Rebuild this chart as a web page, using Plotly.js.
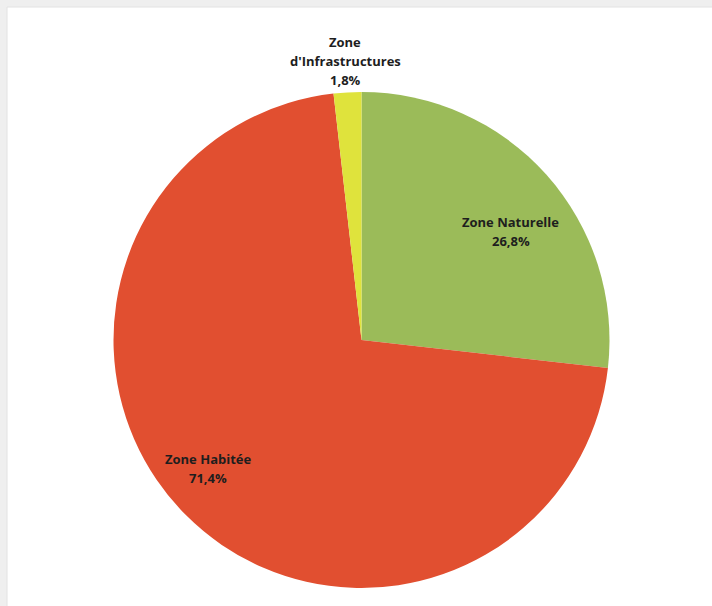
<!DOCTYPE html>
<html>
<head>
<meta charset="utf-8">
<script src="https://cdn.plot.ly/plotly-3.0.1.min.js"></script>
<style>html,body{margin:0;padding:0;background:#fff;}#chart{width:712px;height:606px;}</style>
</head>
<body>
<div id="chart"></div>
<script>
const categories = ["Zone Naturelle", "Zone Habitée", "Zone d'Infrastructures"];
const values = [26.8, 71.4, 1.8];
const labelLines = [["Zone Naturelle"], ["Zone Habitée"], ["Zone", "d'Infrastructures"]];
const colors = ["#9BBB59", "#E14F30", "#DFE33C"];

const W = 712, H = 606;
const cx = 361.5, cy = 340, r = 248;
function px(x){return x / W;}
function py(y){return 1 - y / H;}

const fmt = v => v.toFixed(1).replace('.', ',') + '%';
const labelPos = [[511, 231.5], [208, 468.5], [345, 61]];
const lineGap = 19;

const annotations = [];
categories.forEach((c, i) => {
  const lines = labelLines[i].concat([fmt(values[i])]);
  const n = lines.length;
  lines.forEach((t, j) => {
    annotations.push({
      xref: 'paper', yref: 'paper',
      x: px(labelPos[i][0]), y: py(labelPos[i][1] + (j - (n - 1) / 2) * lineGap),
      xanchor: 'center', yanchor: 'middle',
      showarrow: false,
      text: '<b>' + t + '</b>',
      font: {family: 'Open Sans, sans-serif', size: 13, color: '#1e1e1e'},
      align: 'center'
    });
  });
});

const data = [{
  type: 'pie',
  labels: categories,
  values: values,
  sort: false,
  direction: 'clockwise',
  rotation: 0,
  marker: {colors: colors, line: {width: 0}},
  textinfo: 'none',
  hoverinfo: 'label+percent',
  showlegend: false,
  domain: {x: [px(cx - r), px(cx + r)], y: [py(cy + r), py(cy - r)]}
}];

const layout = {
  width: W, height: H,
  margin: {l: 0, r: 0, t: 0, b: 0},
  paper_bgcolor: '#EFEFEF',
  showlegend: false,
  shapes: [{
    type: 'rect', xref: 'paper', yref: 'paper',
    x0: px(7), x1: 1.01, y0: -0.01, y1: py(7),
    fillcolor: '#FFFFFF', line: {width: 1, color: '#E2E2E2'}, layer: 'below'
  }],
  annotations: annotations
};

Plotly.newPlot('chart', data, layout, {displayModeBar: false, staticPlot: true});
</script>
</body>
</html>
